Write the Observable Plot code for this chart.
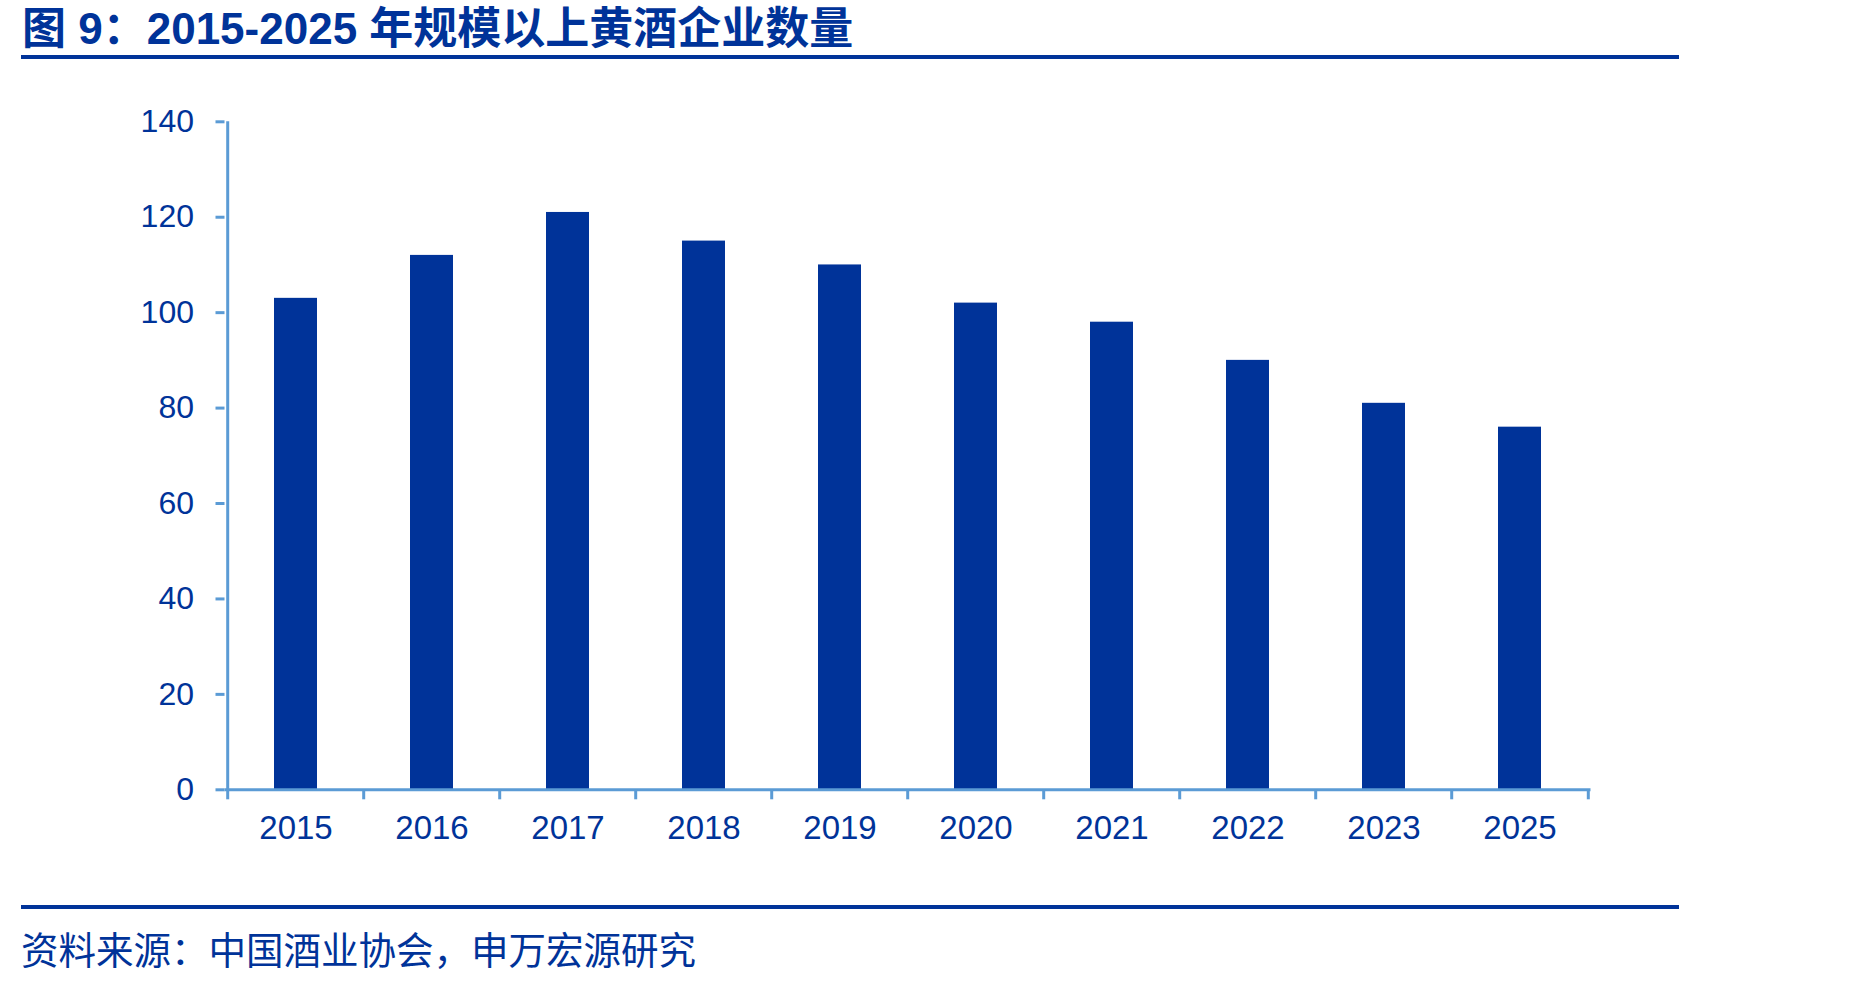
<!DOCTYPE html>
<html>
<head>
<meta charset="utf-8">
<script src="https://cdn.jsdelivr.net/npm/d3@7"></script>
<script src="https://cdn.jsdelivr.net/npm/@observablehq/plot@0.6"></script>
<style>
  html, body { margin: 0; padding: 0; background: #fff; }
  #wrap { position: relative; width: 1849px; height: 982px; overflow: hidden; }
  #title { position: absolute; left: 22px; top: 3px; font-family: "Liberation Sans", "Noto Sans CJK SC", sans-serif; font-weight: bold; font-size: 44px; line-height: 52px; color: #003399; white-space: nowrap; }
  .hline { position: absolute; left: 21px; width: 1658px; height: 4px; background: #003399; }
  #caption { position: absolute; left: 21px; top: 925px; font-family: "Noto Sans CJK SC", sans-serif; font-size: 37.5px; line-height: 46px; color: #003399; white-space: nowrap; }
  #chart { position: absolute; left: 0; top: 70px; }
</style>
</head>
<body>
<div id="wrap">
  <div id="title">图 9：2015-2025 年规模以上黄酒企业数量</div>
  <div class="hline" style="top:55px"></div>
  <div id="chart"></div>
  <div class="hline" style="top:905px"></div>
  <div id="caption">资料来源：中国酒业协会，申万宏源研究</div>
</div>
<script>
const years = ["2015", "2016", "2017", "2018", "2019", "2020", "2021", "2022", "2023", "2025"];
const counts = [103, 112, 121, 115, 110, 102, 98, 90, 81, 76];
const yTicks = [0, 20, 40, 60, 80, 100, 120, 140];

const data = years.map((y, i) => ({year: y, value: counts[i]}));

const W = 1849, H = 780;
const mL = 224.5, mR = 258.5, mT = 51.3, mB = 60.7;
const step = (W - mL - mR) / years.length;
const pad = 0.685;
const axisColor = "#5B9BD5";
const textColor = "#003399";

const chart = Plot.plot({
  width: W,
  height: H,
  marginLeft: mL,
  marginRight: mR,
  marginTop: mT,
  marginBottom: mB,
  style: {fontFamily: "'Liberation Sans', Arial, sans-serif", fontSize: "32px", color: textColor, background: "transparent"},
  x: {type: "band", domain: years, paddingInner: pad, paddingOuter: pad / 2, align: 0.5},
  y: {domain: [0, 140]},
  marks: [
    Plot.barY(data, {x: "year", y: "value", fill: "#003399"}),
    Plot.ruleY([0], {stroke: axisColor, strokeWidth: 3}),
    Plot.ruleX([years[0]], {x: d => d, y1: 0, y2: 140, dx: -step / 2, stroke: axisColor, strokeWidth: 3}),
    Plot.axisY({ticks: yTicks, tickSize: 9, tickPadding: 22, stroke: axisColor, strokeWidth: 3, fill: textColor, label: null, tickFormat: d => String(d)}),
    Plot.axisX({tickSize: 0, tickPadding: 26, fill: textColor, label: null, fontSize: 33}),
    Plot.axisX({ticks: years, tickSize: 10, text: null, dx: -step / 2, stroke: axisColor, strokeWidth: 3, label: null}),
    Plot.axisX({ticks: [years[years.length - 1]], tickSize: 10, text: null, dx: step / 2, stroke: axisColor, strokeWidth: 3, label: null})
  ]
});
document.getElementById("chart").appendChild(chart);
</script>
</body>
</html>
